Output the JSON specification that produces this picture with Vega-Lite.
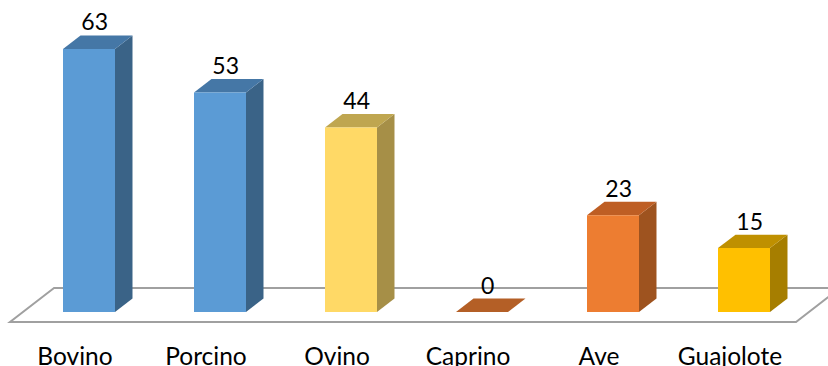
{"$schema":"https://vega.github.io/schema/vega-lite/v6.json","width":828,"height":366,"padding":0,"autosize":{"type":"none"},"background":"white","view":{"stroke":null},"config":{"font":"Lato"},"data":{"values":[{"category":"Bovino","pos":0,"value":63},{"category":"Porcino","pos":1,"value":52.6},{"category":"Ovino","pos":2,"value":44.2},{"category":"Caprino","pos":3,"value":0},{"category":"Ave","pos":4,"value":23.2},{"category":"Guajolote","pos":5,"value":15.3}]},"resolve":{"scale":{"x":"independent","color":"independent"},"axis":{"x":"independent"}},"layer":[{"data":{"values":[{"plane":"front"},{"plane":"back"}]},"transform":[{"calculate":"datum.plane==='front'?-2.4:5.75","as":"yv"},{"calculate":"datum.plane==='front'?-0.603:-0.267","as":"x0"},{"calculate":"datum.plane==='front'?5.397:5.733","as":"x1"}],"mark":{"type":"area","orient":"horizontal","fill":"white","stroke":"#A0A0A0","strokeWidth":2,"clip":false},"encoding":{"y":{"field":"yv","type":"quantitative","scale":{"domain":[-12.934,74.73],"nice":false,"zero":false},"axis":null},"x":{"field":"x0","type":"quantitative","scale":{"domain":[-0.6794,5.6412],"nice":false,"zero":false},"axis":null},"x2":{"field":"x1"}}},{"transform":[{"calculate":"datum.pos+0.1985","as":"near"},{"calculate":"datum.pos+0.332","as":"far"},{"fold":["near","far"],"as":["edge","xv"]},{"calculate":"datum.edge==='far'?3.23:0","as":"lift"},{"calculate":"datum.value+datum.lift","as":"yt"}],"mark":{"type":"area","orient":"vertical"},"encoding":{"x":{"field":"xv","type":"quantitative","scale":{"domain":[-0.6794,5.6412],"nice":false,"zero":false},"axis":null},"y":{"field":"yt","type":"quantitative","scale":{"domain":[-12.934,74.73],"nice":false,"zero":false},"axis":null},"y2":{"field":"lift"},"color":{"field":"category","type":"nominal","legend":null,"scale":{"domain":["Bovino","Porcino","Ovino","Caprino","Ave","Guajolote"],"range":["#3A6387","#3A6387","#A68F47","#9E531F","#9E531F","#A67E00"]}}}},{"transform":[{"calculate":"0","as":"base"},{"calculate":"0.1336","as":"deep"},{"fold":["base","deep"],"as":["plane","shift"]},{"calculate":"datum.plane==='deep'?3.23:0","as":"lift"},{"calculate":"datum.value+datum.lift","as":"yt"},{"calculate":"datum.pos-0.1985+datum.shift","as":"x0"},{"calculate":"datum.pos+0.1985+datum.shift","as":"x1"}],"mark":{"type":"area","orient":"horizontal"},"encoding":{"y":{"field":"yt","type":"quantitative","scale":{"domain":[-12.934,74.73],"nice":false,"zero":false},"axis":null},"x":{"field":"x0","type":"quantitative","scale":{"domain":[-0.6794,5.6412],"nice":false,"zero":false},"axis":null},"x2":{"field":"x1"},"color":{"field":"category","type":"nominal","legend":null,"scale":{"domain":["Bovino","Porcino","Ovino","Caprino","Ave","Guajolote"],"range":["#4577A6","#4577A6","#BFA650","#B45F26","#BE5E24","#BF9000"]}}}},{"mark":{"type":"bar","width":52},"encoding":{"x":{"field":"category","type":"nominal","sort":null,"scale":{"type":"band","domain":["Bovino","Porcino","Ovino","Caprino","Ave","Guajolote"],"range":[23.5,809.5],"paddingInner":0,"paddingOuter":0},"axis":{"title":null,"domain":false,"ticks":false,"labelAngle":0,"labelFont":"Lato","labelFontSize":24.5,"labelColor":"#000000","labelBaseline":"alphabetic","labelPadding":28,"labelOffset":-14,"offset":-30,"labelOverlap":false,"labelBound":false,"labelFlush":false}},"y":{"field":"value","type":"quantitative","scale":{"domain":[-12.934,74.73],"nice":false,"zero":false},"axis":null},"color":{"field":"category","type":"nominal","legend":null,"scale":{"domain":["Bovino","Porcino","Ovino","Caprino","Ave","Guajolote"],"range":["#5B9BD5","#5B9BD5","#FFD966","#C55A11","#ED7D31","#FFC000"]}}}},{"transform":[{"calculate":"datum.pos+0.043","as":"xt"},{"calculate":"datum.value+3.23+1.2","as":"yt"}],"mark":{"type":"text","font":"Lato","fontSize":23,"color":"#000000","baseline":"alphabetic","align":"center"},"encoding":{"x":{"field":"xt","type":"quantitative","scale":{"domain":[-0.6794,5.6412],"nice":false,"zero":false},"axis":null},"y":{"field":"yt","type":"quantitative","scale":{"domain":[-12.934,74.73],"nice":false,"zero":false},"axis":null},"text":{"field":"value","type":"quantitative","format":".0f"}}}]}
